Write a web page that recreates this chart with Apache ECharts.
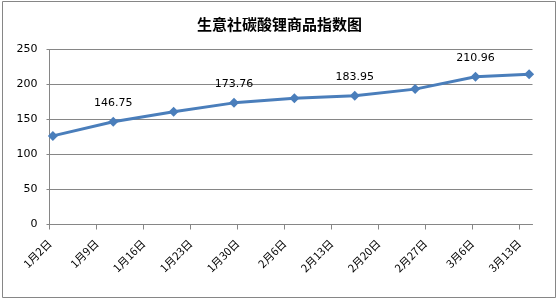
<!DOCTYPE html>
<html><head><meta charset="utf-8">
<script src="https://cdn.jsdelivr.net/npm/echarts@6/dist/echarts.min.js"></script>
<style>html,body{margin:0;padding:0;background:#fff}#c{width:559px;height:300px}</style>
</head><body><div id="c"></div>
<script>
// Tick labels on the date axis (weekly, starting 1月2日)
const tickLabels = ['1月2日','1月9日','1月16日','1月23日','1月30日','2月6日','2月13日','2月20日','2月27日','3月6日','3月13日'];
// Days after 1月2日 for each data point
const pointDays = [0, 9, 18, 27, 36, 45, 54, 63, 71];
// Index values
const values = [126.6, 146.75, 161.0, 173.76, 180.5, 183.95, 193.4, 210.96, 214.8];
// Which points carry a value label
const labeledPoints = [1, 3, 5, 7];
const yTicks = [0, 50, 100, 150, 200, 250];

const tickDays = tickLabels.map((_, i) => i * 7);
const data = pointDays.map((d, i) => ({
  value: [d + 0.5, values[i]],
  label: { show: labeledPoints.includes(i) }
}));

const chart = echarts.init(document.getElementById('c'), null, {renderer: 'canvas'});
chart.setOption({
  animation: false,
  backgroundColor: '#fff',
  title: {
    text: '生意社碳酸锂商品指数图',
    left: 'center', top: 12,
    textStyle: {fontFamily: 'Noto Sans CJK SC', fontSize: 15, fontWeight: 'bold', color: '#000'}
  },
  graphic: [{
    type: 'rect', shape: {x: 2.5, y: 1.5, width: 553, height: 296},
    style: {fill: 'none', stroke: '#868686', lineWidth: 1}, silent: true, z: -1
  }],
  grid: {left: 49.5, right: 26.5, top: 49.5, bottom: 75.5},
  xAxis: {
    type: 'value', min: 0, max: 72,
    axisLine: {show: true, lineStyle: {color: '#868686', width: 1}},
    axisTick: {show: true, length: 5, lineStyle: {color: '#868686'}, customValues: tickDays},
    axisLabel: {
      customValues: tickDays,
      rotate: 45, margin: 17, fontSize: 11, color: '#000',
      fontFamily: 'Noto Sans CJK SC',
      padding: [0, 0, 0, 0],
      formatter: v => tickLabels[Math.round(v / 7)] || ''
    },
    splitLine: {show: false}
  },
  yAxis: {
    type: 'value', min: yTicks[0], max: yTicks[yTicks.length - 1], interval: 50,
    axisLine: {show: true, lineStyle: {color: '#868686', width: 1}},
    axisTick: {show: true, length: 3, lineStyle: {color: '#868686'}},
    axisLabel: {fontSize: 11, color: '#000', margin: 12, fontFamily: 'DejaVu Sans'},
    splitLine: {show: true, lineStyle: {color: '#868686', width: 1}}
  },
  series: [{
    type: 'line',
    data: data,
    symbol: 'diamond', symbolSize: 10,
    lineStyle: {color: '#4a7ebb', width: 3},
    itemStyle: {color: '#4a7ebb'},
    label: {
      position: 'top', distance: 8, fontSize: 11, color: '#000',
      fontFamily: 'DejaVu Sans',
      formatter: p => values[p.dataIndex].toFixed(2)
    }
  }]
});
</script></body></html>
